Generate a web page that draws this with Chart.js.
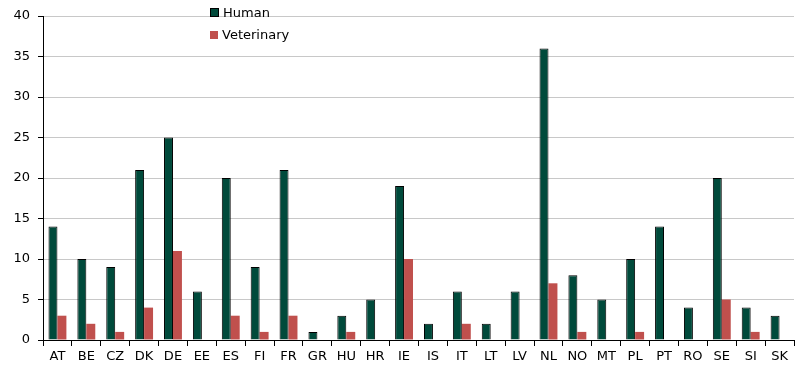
<!DOCTYPE html>
<html>
<head>
<meta charset="utf-8">
<script src="https://cdn.jsdelivr.net/npm/chart.js@4/dist/chart.umd.min.js"></script>
<style>
  body { margin: 0; background: #fff; }
  #wrap { position: relative; width: 812px; height: 376px; }
  .legend { position: absolute; left: 210px; font: 13px "DejaVu Sans", Verdana, sans-serif; color: #000; }
  .legend span.box { display: inline-block; width: 8px; height: 8px; margin-right: 4px; }
</style>
</head>
<body>
<div id="wrap">
  <canvas id="myChart" width="812" height="376"></canvas>
  <div id="legend"></div>
</div>
<script>
const countries = ["AT", "BE", "CZ", "DK", "DE", "EE", "ES", "FI", "FR", "GR", "HU", "HR", "IE",
  "IS", "IT", "LT", "LV", "NL", "NO", "MT", "PL", "PT", "RO", "SE", "SI", "SK"]
const human = [14, 10, 9, 21, 25, 6, 20, 9, 21, 1, 3, 5, 19, 2, 6, 2, 6, 36, 8, 5, 10, 14, 4, 20, 4, 3]
const veterinary = [3, 2, 1, 4, 11, 0, 3, 1, 3, 0, 1, 0, 10, 0, 2, 0, 0, 7, 1, 0, 1, 0, 0, 5, 1, 0]
const seriesNames = ["Human", "Veterinary"]
const seriesColors = ["#004a3b", "#c0504d"]

const font = { family: "'DejaVu Sans', Verdana, sans-serif", size: 13 }

// legend drawn as html, stacked like the original
const legend = document.getElementById("legend")
seriesNames.forEach((name, i) => {
  const d = document.createElement("div")
  d.className = "legend"
  d.style.top = (5 + i * 22) + "px"
  d.innerHTML = `<span class="box" style="background:${seriesColors[i]};${i === 0 ? "border:1px solid #000;width:7px;height:7px;" : ""}"></span>${name}`
  legend.appendChild(d)
})

const ctx = document.getElementById("myChart").getContext("2d")
new Chart(ctx, {
  type: "bar",
  data: {
    labels: countries,
    datasets: [
      {
        label: seriesNames[0],
        data: human,
        backgroundColor: seriesColors[0],
        borderColor: "#000",
        borderWidth: 1,
        barPercentage: 1,
        categoryPercentage: 0.62
      },
      {
        label: seriesNames[1],
        data: veterinary,
        backgroundColor: seriesColors[1],
        borderWidth: 0,
        barPercentage: 1,
        categoryPercentage: 0.62
      }
    ]
  },
  options: {
    responsive: false,
    animation: false,
    layout: { padding: { left: 0, right: 18, top: 16, bottom: 0 } },
    plugins: { legend: { display: false }, tooltip: { enabled: false } },
    scales: {
      x: {
        grid: { offset: true, drawOnChartArea: false, tickLength: 6, tickColor: "#000" },
        border: { color: "#000", width: 1 },
        ticks: { color: "#000", font, padding: 3, maxRotation: 0, autoSkip: false },
        afterFit: s => { s.height = 36 }
      },
      y: {
        min: 0,
        max: 40,
        ticks: { stepSize: 5, color: "#000", font, padding: 8 },
        grid: { color: "#c8c8c8", tickLength: 5, tickColor: "#000" },
        border: { color: "#000", width: 1 },
        afterFit: s => { s.width = 43 }
      }
    }
  }
})
</script>
</body>
</html>
